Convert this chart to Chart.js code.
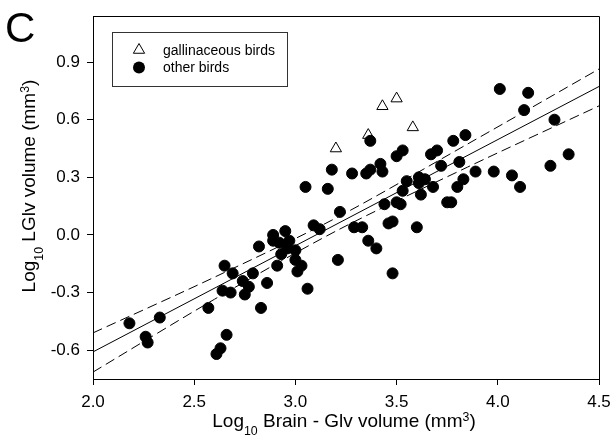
<!DOCTYPE html>
<html>
<head>
<meta charset="utf-8">
<script src="https://cdn.jsdelivr.net/npm/chart.js@4.4.1/dist/chart.umd.min.js"></script>
<style>
  html, body { margin: 0; padding: 0; background: #fff; }
  #wrap { width: 610px; height: 440px; }
</style>
</head>
<body>
<div id="wrap"><canvas id="chart" width="610" height="440"></canvas></div>
<script>
// values
const galliX = [3.20, 3.36, 3.43, 3.50, 3.58];
const galliY = [0.45, 0.52, 0.67, 0.71, 0.56];

const otherX = [2.18, 2.26, 2.27, 2.33, 2.57, 2.61, 2.63, 2.66, 2.64, 2.65,
  2.68, 2.69, 2.74, 2.75, 2.77, 2.79, 2.82, 2.83, 2.86, 2.89,
  2.95, 2.89, 2.92, 2.97, 2.96, 2.93, 2.91, 3.00, 3.00, 3.03,
  3.01, 3.06, 3.05, 3.16, 3.18, 3.22, 3.09, 3.12, 3.21, 3.28,
  3.35, 3.37, 3.42, 3.43, 3.37, 3.50, 3.53, 3.67, 3.70, 3.55,
  3.61, 3.64, 3.61, 3.68, 3.53, 3.62, 3.44, 3.50, 3.52, 3.29,
  3.33, 3.46, 3.48, 3.60, 3.36, 3.40, 3.48, 3.72, 3.78, 3.84,
  3.81, 3.80, 3.83, 3.89, 3.98, 3.75, 3.77, 4.01, 4.15, 4.13,
  4.28, 4.35, 4.26, 4.07, 4.11];
const otherY = [-0.46, -0.53, -0.56, -0.43, -0.38, -0.62, -0.59, -0.52, -0.29, -0.16,
  -0.30, -0.20, -0.24, -0.31, -0.27, -0.20, -0.06, -0.38, -0.25, 0.00,
  0.02, -0.03, -0.04, -0.03, -0.07, -0.10, -0.16, -0.08, -0.13, -0.16,
  -0.19, -0.28, 0.25, 0.24, 0.34, 0.12, 0.05, 0.03, -0.13, 0.32,
  0.32, 0.34, 0.37, 0.33, 0.49, 0.41, 0.44, 0.42, 0.44, 0.28,
  0.30, 0.29, 0.27, 0.25, 0.23, 0.21, 0.16, 0.17, 0.16, 0.04,
  0.04, 0.06, 0.07, 0.04, -0.03, -0.07, -0.20, 0.36, 0.49, 0.52,
  0.38, 0.25, 0.29, 0.33, 0.33, 0.17, 0.17, 0.76, 0.74, 0.65,
  0.60, 0.42, 0.36, 0.31, 0.25];

// regression line and 95% band
const fitX = [2.0, 4.5];
const fitY = [-0.609, 0.773];
const bandX = [2.0, 2.6, 3.2, 3.85, 4.5];
const upperY = [-0.510, -0.220, 0.088, 0.473, 0.864];
const lowerY = [-0.714, -0.335, 0.020, 0.353, 0.672];

const xTicks = [2.0, 2.5, 3.0, 3.5, 4.0, 4.5];
const yTicks = [-0.6, -0.3, 0.0, 0.3, 0.6, 0.9];

const FONT = "'Liberation Sans', Arial, sans-serif";

function pts(xs, ys) {
  return xs.map((x, i) => ({ x: x, y: ys[i] }));
}

function richWidth(ctx, parts, size) {
  let w = 0;
  parts.forEach(p => {
    ctx.font = (p.s ? size * 0.65 : size) + "px " + FONT;
    w += ctx.measureText(p.t).width;
  });
  return w;
}

function drawRich(ctx, parts, x, y, size) {
  let cx = x - richWidth(ctx, parts, size) / 2;
  ctx.textAlign = "left";
  ctx.textBaseline = "alphabetic";
  parts.forEach(p => {
    const sz = p.s ? size * 0.65 : size;
    const dy = p.s === "sub" ? size * 0.42 : p.s === "sup" ? -size * 0.33 : 0;
    ctx.font = sz + "px " + FONT;
    ctx.fillText(p.t, cx, y + dy);
    cx += ctx.measureText(p.t).width;
  });
}

const xTitle = [{ t: "Log" }, { t: "10", s: "sub" }, { t: " Brain - Glv volume (mm" }, { t: "3", s: "sup" }, { t: ")" }];
const yTitle = [{ t: "Log" }, { t: "10", s: "sub" }, { t: " LGlv volume (mm" }, { t: "3", s: "sup" }, { t: ")" }];

// frame, legend box, axis titles, panel letter
const decor = {
  id: "decor",
  afterDraw(chart) {
    const ctx = chart.ctx;
    const a = chart.chartArea;
    ctx.save();
    ctx.strokeStyle = "#000";
    ctx.lineWidth = 1;
    ctx.beginPath();
    ctx.moveTo(Math.round(a.left) + 0.5, Math.round(a.top) + 0.5);
    ctx.lineTo(Math.round(a.right) + 0.5, Math.round(a.top) + 0.5);
    ctx.lineTo(Math.round(a.right) + 0.5, Math.round(a.bottom) + 0.5);
    ctx.stroke();

    // legend
    const bx = Math.round(a.left) + 19, by = Math.round(a.top) + 16;
    ctx.fillStyle = "#fff";
    ctx.fillRect(bx, by, 175, 54);
    ctx.strokeStyle = "#333";
    ctx.strokeRect(bx + 0.5, by + 0.5, 175, 54);
    const rows = [chart.data.datasets[1], chart.data.datasets[0]];
    rows.forEach((ds, i) => {
      const cy = by + 18 + i * 17.6;
      const mx = bx + 27;
      ctx.beginPath();
      if (ds.pointStyle === "triangle") {
        const r = ds.pointRadius;
        ctx.moveTo(mx, cy - r);
        ctx.lineTo(mx + r * Math.sin(Math.PI / 3), cy + r / 2);
        ctx.lineTo(mx - r * Math.sin(Math.PI / 3), cy + r / 2);
        ctx.closePath();
        ctx.fillStyle = "#fff";
        ctx.fill();
        ctx.strokeStyle = "#000";
        ctx.stroke();
      } else {
        ctx.arc(mx, cy, ds.pointRadius + 0.5, 0, Math.PI * 2);
        ctx.fillStyle = "#000";
        ctx.fill();
      }
      ctx.fillStyle = "#000";
      ctx.font = "14px " + FONT;
      ctx.textAlign = "left";
      ctx.textBaseline = "middle";
      ctx.fillText(ds.label, bx + 51, cy + 1);
    });

    // axis titles
    ctx.fillStyle = "#000";
    drawRich(ctx, xTitle, (a.left + a.right) / 2 - 2, 427, 19);
    ctx.save();
    ctx.translate(35, 186);
    ctx.rotate(-Math.PI / 2);
    drawRich(ctx, yTitle, 0, 0, 19);
    ctx.restore();

    ctx.font = "42px " + FONT;
    ctx.textAlign = "left";
    ctx.textBaseline = "alphabetic";
    ctx.fillText("C", 5, 42);
    ctx.restore();
  }
};

const axisCommon = {
  type: "linear",
  grid: { drawOnChartArea: false, drawTicks: true, tickLength: 6, color: "#000" },
  border: { display: true, color: "#000", width: 1 },
  ticks: {
    color: "#000",
    font: { family: FONT, size: 17 },
    padding: 7,
    maxRotation: 0,
    callback: v => Number(v).toFixed(1)
  }
};

new Chart(document.getElementById("chart"), {
  type: "scatter",
  data: {
    datasets: [
      {
        label: "other birds",
        data: pts(otherX, otherY),
        pointStyle: "circle",
        pointRadius: 5.5,
        borderWidth: 1,
        borderColor: "#000",
        backgroundColor: "#000",
        order: 0
      },
      {
        label: "gallinaceous birds",
        data: pts(galliX, galliY),
        pointStyle: "triangle",
        pointRadius: 6.5,
        borderWidth: 1,
        borderColor: "#000",
        backgroundColor: "#fff",
        order: 1
      },
      {
        data: pts(fitX, fitY),
        showLine: true,
        pointRadius: 0,
        borderColor: "#000",
        borderWidth: 1,
        order: 2
      },
      {
        data: pts(bandX, upperY),
        showLine: true,
        pointRadius: 0,
        borderColor: "#000",
        borderWidth: 1,
        borderDash: [10, 5],
        tension: 0.3,
        order: 2
      },
      {
        data: pts(bandX, lowerY),
        showLine: true,
        pointRadius: 0,
        borderColor: "#000",
        borderWidth: 1,
        borderDash: [10, 5],
        tension: 0.3,
        order: 2
      }
    ]
  },
  options: {
    responsive: false,
    devicePixelRatio: 1,
    animation: false,
    layout: { padding: { left: 0, right: 11, top: 16, bottom: 0 } },
    plugins: { legend: { display: false }, tooltip: { enabled: false } },
    scales: {
      x: Object.assign({}, axisCommon, {
        min: 2.0,
        max: 4.5,
        afterBuildTicks: s => { s.ticks = xTicks.map(v => ({ value: v })); },
        afterFit: s => { s.height = 61; s.paddingLeft = 0; s.paddingRight = 0; }
      }),
      y: Object.assign({}, axisCommon, {
        min: -0.75,
        max: 1.14,
        afterBuildTicks: s => { s.ticks = yTicks.map(v => ({ value: v })); },
        afterFit: s => { s.width = 93; s.paddingTop = 0; s.paddingBottom = 0; }
      })
    }
  },
  plugins: [decor]
});
</script>
</body>
</html>
